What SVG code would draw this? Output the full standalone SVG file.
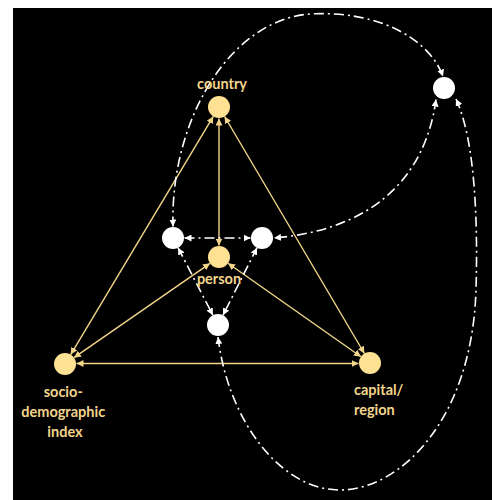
<svg xmlns="http://www.w3.org/2000/svg" width="498" height="500" viewBox="0 0 498 500">
  <defs>
    <marker id="ah-y" markerUnits="userSpaceOnUse" markerWidth="8" markerHeight="7" refX="7" refY="3.5" orient="auto-start-reverse">
      <path d="M0,0 L7,3.5 L0,7 z" fill="#F3D68A"/>
    </marker>
    <marker id="ah-w" markerUnits="userSpaceOnUse" markerWidth="8" markerHeight="7" refX="7" refY="3.5" orient="auto-start-reverse">
      <path d="M0,0 L7,3.5 L0,7 z" fill="#FFFFFF"/>
    </marker>
    <style>
      .bg { fill: #000000; }
      .main { fill: #FFE194; }
      .aux { fill: #FFFFFF; }
      .label { font-family: Lato, "Liberation Sans", sans-serif; font-weight: bold; font-size: 14.5px; fill: #F2D58C; }
      .ylink { fill: none; stroke: #F3D68A; stroke-width: 1.4; marker-start: url(#ah-y); marker-end: url(#ah-y); }
      .wlink { fill: none; stroke: #FFFFFF; stroke-width: 1.6; stroke-dasharray: 10 4 2 4; marker-start: url(#ah-w); marker-end: url(#ah-w); }
    </style>
  </defs>

  <rect class="bg" x="13" y="8" width="479" height="492"/>

  <g id="connectors">
    <!-- solid links between the four main variables -->
    <line class="ylink" x1="219" y1="118.5" x2="219" y2="245.5"/>
    <line class="ylink" x1="213.3" y1="116.4" x2="70.7" y2="354.6"/>
    <line class="ylink" x1="224.6" y1="116.5" x2="364.4" y2="353.5"/>
    <line class="ylink" x1="210" y1="263.3" x2="74" y2="357.7"/>
    <line class="ylink" x1="228" y1="263.3" x2="361" y2="356.7"/>
    <line class="ylink" x1="76.5" y1="363.5" x2="358.5" y2="363.5"/>

    <!-- dash-dot links between the auxiliary nodes -->
    <line class="wlink" x1="184.5" y1="238" x2="250.5" y2="238"/>
    <line class="wlink" x1="178.1" y1="247.8" x2="212.9" y2="315.2"/>
    <line class="wlink" x1="257" y1="247.8" x2="223" y2="315.2"/>
    <path class="wlink" d="M173,226.5 C170,120 230,20 310,14 C380,10 430,40 443,76.5"/>
    <path class="wlink" d="M436,99.5 C425,180 370,230 274,238"/>
    <path class="wlink" d="M456,99 C475,140 478,220 476,290 C472,420 400,490 340,490 C280,490 228,420 218,337"/>
  </g>

  <g id="node-country">
    <circle class="main" cx="219" cy="107" r="11"/>
    <text class="label" x="222" y="89" text-anchor="middle">country</text>
  </g>
  <g id="node-person">
    <circle class="main" cx="219" cy="257" r="11"/>
    <text class="label" x="219" y="284" text-anchor="middle">person</text>
  </g>
  <g id="node-socio">
    <circle class="main" cx="65" cy="364" r="11"/>
    <text class="label" text-anchor="middle">
      <tspan x="65" y="397">socio-</tspan>
      <tspan x="65" y="417">demographic</tspan>
      <tspan x="65" y="437">index</tspan>
    </text>
  </g>
  <g id="node-capital">
    <circle class="main" cx="370" cy="363" r="11"/>
    <text class="label">
      <tspan x="354" y="395">capital/</tspan>
      <tspan x="354" y="415">region</tspan>
    </text>
  </g>
  <g id="node-aux-left">
    <circle class="aux" cx="173" cy="238" r="11"/>
  </g>
  <g id="node-aux-right">
    <circle class="aux" cx="262" cy="238" r="11"/>
  </g>
  <g id="node-aux-bottom">
    <circle class="aux" cx="218" cy="325" r="11"/>
  </g>
  <g id="node-aux-outer">
    <circle class="aux" cx="444" cy="88" r="11"/>
  </g>
</svg>
